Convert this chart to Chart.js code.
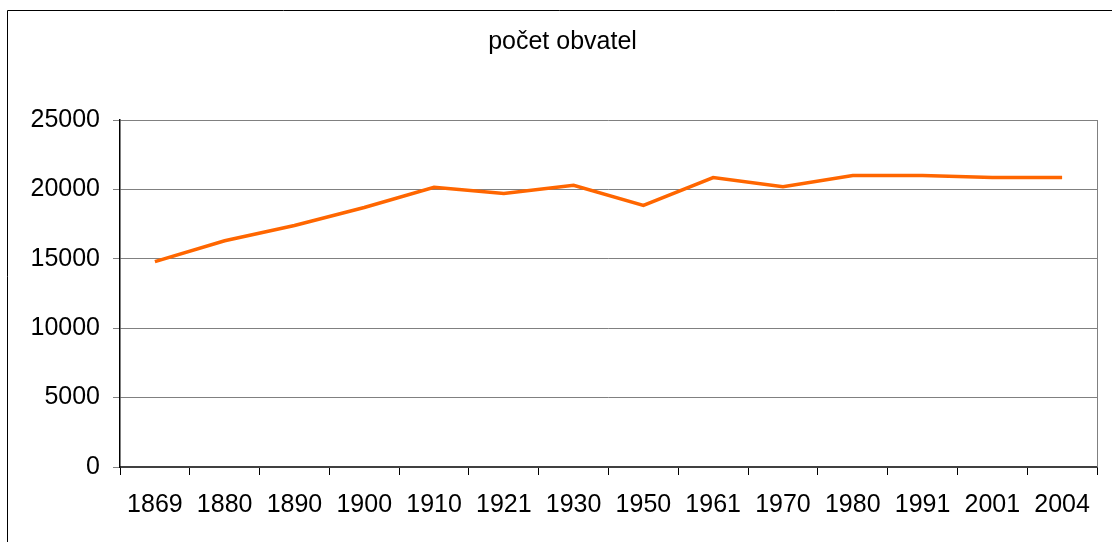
<!DOCTYPE html>
<html>
<head>
<meta charset="utf-8">
<script src="https://cdn.jsdelivr.net/npm/chart.js@4"></script>
<style>
  html, body { margin: 0; padding: 0; background: #fff; }
  #wrap { width: 1112px; height: 542px; }
</style>
</head>
<body>
<div id="wrap"><canvas id="popChart" width="1112" height="542"></canvas></div>
<script>
// census years and population
var years = ['1869', '1880', '1890', '1900', '1910', '1921', '1930', '1950', '1961', '1970', '1980', '1991', '2001', '2004'];
var population = [14800, 16300, 17400, 18700, 20150, 19700, 20300, 18850, 20850, 20200, 21000, 21000, 20850, 20850];
var yTicks = [0, 5000, 10000, 15000, 20000, 25000];

const fontFamily = 'Liberation Sans, Arial, sans-serif';

const framePlugin = {
    id: 'frame',
    beforeDraw: function(chart){
        const ctx = chart.ctx;
        ctx.save();
        ctx.fillStyle = '#fff';
        ctx.fillRect(0, 0, chart.width, chart.height);
        ctx.strokeStyle = '#000';
        ctx.lineWidth = 1;
        ctx.beginPath();
        ctx.moveTo(7.5, chart.height);
        ctx.lineTo(7.5, 10.5);
        ctx.lineTo(chart.width, 10.5);
        ctx.stroke();
        ctx.restore();
    },
    afterDatasetsDraw: function(chart){
        const a = chart.chartArea;
        const ctx = chart.ctx;
        ctx.save();
        ctx.strokeStyle = '#808080';
        ctx.lineWidth = 1;
        ctx.beginPath();
        ctx.moveTo(Math.round(a.right) + 0.5, a.top);
        ctx.lineTo(Math.round(a.right) + 0.5, a.bottom);
        ctx.stroke();
        ctx.restore();
    }
};

const config = {
    type: 'line',
    data: {
        labels: years,
        datasets: [{
            data: population,
            borderColor: '#FF6600',
            borderWidth: 3.5,
            pointRadius: 0,
            tension: 0,
            fill: false
        }]
    },
    options: {
        responsive: false,
        animation: false,
        layout: {
            padding: { left: 28, top: 0, right: 15, bottom: 0 }
        },
        plugins: {
            legend: { display: false },
            tooltip: { enabled: false },
            title: {
                display: true,
                text: 'počet obvatel',
                color: '#000',
                font: { family: fontFamily, size: 25, weight: 'normal' },
                padding: { top: 27, bottom: 63 }
            }
        },
        scales: {
            x: {
                offset: true,
                grid: {
                    offset: true,
                    drawOnChartArea: false,
                    drawTicks: true,
                    tickLength: 8,
                    color: '#000'
                },
                border: { color: '#404040', width: 2 },
                ticks: {
                    color: '#000',
                    padding: 15,
                    maxRotation: 0,
                    autoSkip: false,
                    font: { family: fontFamily, size: 25 }
                },
                afterFit: function(scale){ scale.height = 75; }
            },
            y: {
                min: 0,
                max: 25000,
                afterBuildTicks: function(scale){
                    scale.ticks = yTicks.map(function(v){ return { value: v }; });
                },
                grid: {
                    color: '#808080',
                    lineWidth: 1,
                    tickLength: 7
                },
                border: { color: '#000', width: 1.5 },
                ticks: {
                    color: '#000',
                    padding: 13,
                    callback: function(v){ return String(v); },
                    font: { family: fontFamily, size: 25 }
                },
                afterFit: function(scale){ scale.width = 92; }
            }
        }
    },
    plugins: [framePlugin]
};

const myChart = new Chart(document.getElementById('popChart'), config);
</script>
</body>
</html>
